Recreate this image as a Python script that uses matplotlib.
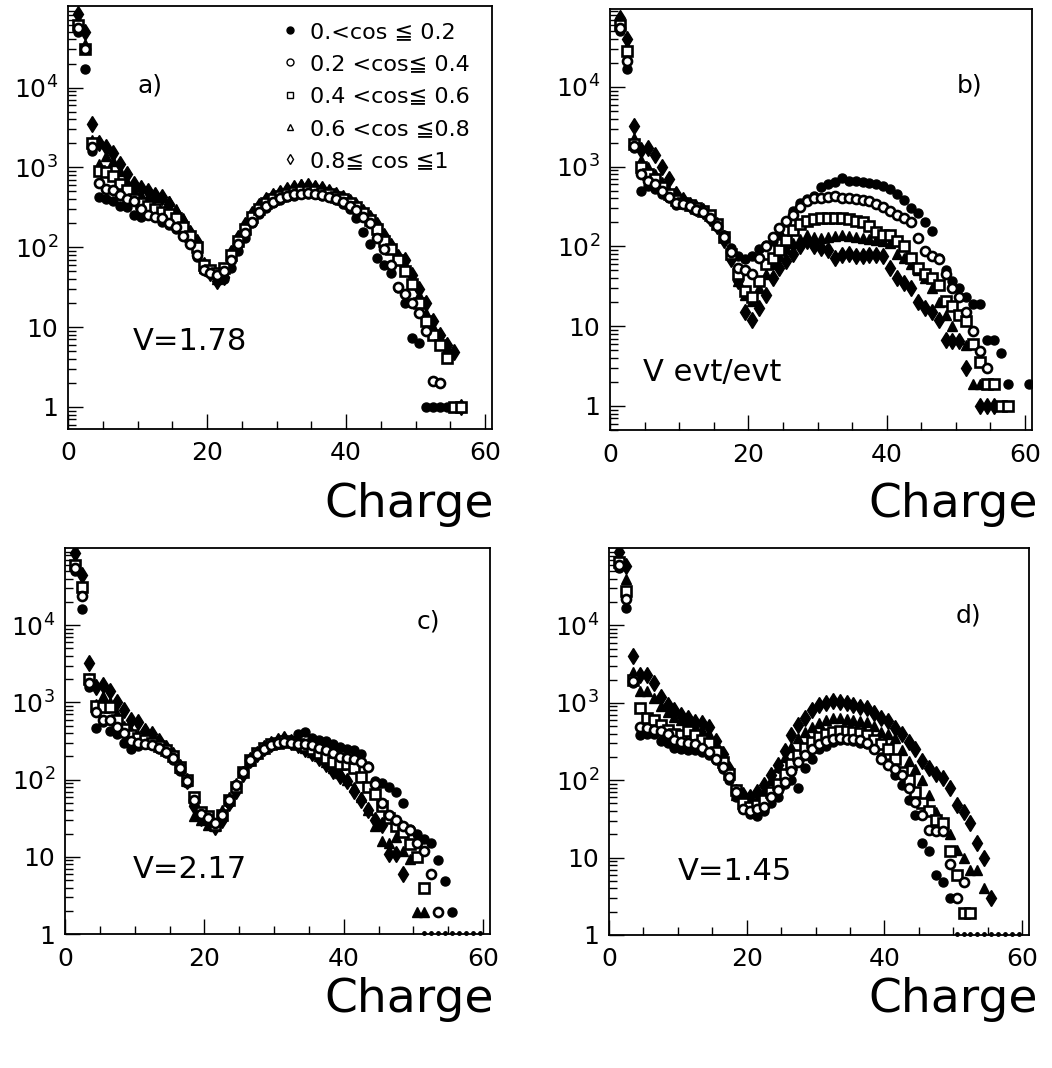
"""Charge distributions in four cos-theta bins, four panels a)-d)."""

import numpy as np
import matplotlib
matplotlib.use("Agg")
import matplotlib.pyplot as plt
from matplotlib.lines import Line2D
from matplotlib.ticker import (FixedLocator, FixedFormatter, MultipleLocator,
                               LogLocator, NullFormatter)

plt.rcParams["font.family"] = ["DejaVu Sans", "Noto Sans CJK SC"]
plt.rcParams["mathtext.fontset"] = "dejavusans"

nan = np.nan

# bin centres of the charge histogram
CHARGE = np.arange(1, 61) + 0.5

LEGEND_LABELS = ["0.<cos ≦ 0.2", "0.2 <cos≦ 0.4", "0.4 <cos≦ 0.6",
                 "0.6 <cos ≦0.8", "0.8≦ cos ≦1"]

# ─── panel a) V=1.78 ──────────────────────────────────────────────────────────
A_C1 = [5.0e4, 1.7e4, 1.6e3, 430, 400, 385, 330, 320, 250, 240, 270, 250, 210, 190,
        170, 140, 110, 75, 55, 50, 42, 40, 55, 90, 130, 200, 260, 310, 360, 390, 420,
        440, 460, 470, 460, 440, 420, 390, 350, 300, 230, 155, 110, 73, 60, 48, 31,
        20, 7.3, 6.3, 1, 1, 1, 1, 1, 1]
A_C2 = [5.5e4, 3.0e4, 1.8e3, 630, 540, 520, 450, 400, 380, 300, 250, 240, 230, 200,
        180, 140, 110, 80, 52, 48, 45, 50, 70, 110, 150, 210, 280, 330, 370, 410, 440,
        460, 470, 480, 470, 450, 430, 400, 370, 330, 290, 240, 200, 130, 95, 60, 32,
        26, 20, 15, 9, 2.1, 2.0]
A_C3 = [6.0e4, 3.0e4, 2.0e3, 900, 880, 770, 620, 520, 400, 360, 330, 300, 280, 260,
        230, 180, 140, 100, 60, 52, 48, 55, 80, 120, 170, 240, 300, 360, 400, 440, 470,
        490, 500, 510, 500, 480, 460, 430, 400, 360, 320, 270, 220, 170, 120, 95, 70,
        50, 35, 20, 12, 8, 6, 4.1, 1, 1]
A_C4 = [7.0e4, 3.5e4, 2.2e3, 1.1e3, 1.4e3, 1.2e3, 900, 650, 520, 450, 420, 420, 430,
        380, 300, 230, 160, 110, 55, 50, 40, 48, 90, 140, 200, 270, 340, 400, 450, 500,
        540, 570, 620, 600, 580, 550, 500, 460, 420, 380, 330, 280, 230, 180, 130, 100,
        80, 60, 42, 25, 15, 10, 7, 5.5, 1, 1]
A_C5 = [8.4e4, 4.9e4, 3.5e3, 2.0e3, 1.8e3, 1.5e3, 1.1e3, 830, 620, 560, 500, 450, 420,
        350, 270, 210, 150, 115, 60, 48, 38, 42, 85, 130, 190, 260, 330, 390, 440, 480,
        520, 550, 570, 580, 560, 530, 490, 450, 410, 370, 330, 280, 230, 190, 140, 105,
        75, 69, 45, 30, 20, 12, 8, 6, 4.9, 1]

# ─── panel b) V evt/evt ───────────────────────────────────────────────────────
B_C1 = [5.0e4, 1.7e4, 1.7e3, 500, 570, 520, 450, 400, 330, 350, 330, 300, 280, 240,
        190, 140, 95, 75, 70, 75, 92, 105, 118, 140, 200, 280, 350, 390, 430, 550, 600,
        640, 730, 660, 660, 650, 630, 600, 570, 520, 450, 380, 300, 260, 200, 155, 72,
        50, 37, 30, 23, 19, 19, 6.8, 6.8, 4.6, 1.9, nan, nan, 1.9]
B_C2 = [5.5e4, 2.1e4, 1.8e3, 800, 660, 600, 500, 420, 350, 340, 320, 290, 270, 230,
        180, 130, 85, 54, 50, 45, 72, 100, 130, 170, 210, 250, 310, 370, 400, 410, 420,
        430, 410, 400, 390, 380, 370, 340, 310, 280, 250, 230, 200, 127, 87, 75, 70,
        45, 30, 23, 15, 8.7, 4.9, 3]
B_C3 = [6.0e4, 2.8e4, 1.9e3, 980, 800, 700, 550, 450, 380, 350, 330, 300, 280, 250,
        190, 130, 80, 45, 28, 23, 37, 60, 72, 90, 122, 160, 190, 210, 220, 230, 230, 230,
        225, 220, 210, 200, 180, 150, 140, 140, 117, 100, 72, 54, 45, 40, 33, 21, 18, 14,
        11.6, 6, 3.6, 1.9, 1.9, 1, 1]
B_C4 = [6.5e4, 3.2e4, 2.3e3, 1.2e3, 1.0e3, 800, 650, 500, 400, 360, 330, 310, 290, 250,
        200, 140, 85, 37, 25, 21, 30, 45, 60, 75, 95, 110, 125, 140, 130, 127, 130, 135,
        140, 135, 130, 127, 125, 120, 117, 110, 80, 72, 60, 50, 40, 30, 20, 14, 10, 7,
        5.9, 1.9, 1.9, 1.9]
B_C5 = [7.4e4, 4.0e4, 3.2e3, 1.6e3, 1.7e3, 1.4e3, 1.0e3, 700, 450, 380, 330, 300, 280,
        230, 180, 120, 70, 37, 15, 12, 17, 25, 40, 54, 66, 80, 100, 117, 100, 95, 90, 72,
        78, 80, 75, 76, 78, 78, 75, 54, 40, 35, 30, 20, 17, 15, 12, 6.8, 6.6, 6.6, 3, nan,
        1, 1, 1]

# ─── panel c) V=2.17 ──────────────────────────────────────────────────────────
C_C1 = [5.0e4, 1.6e4, 1.6e3, 460, 550, 420, 390, 300, 250, 270, 300, 280, 250, 220,
        180, 130, 90, 48, 35, 30, 26, 32, 50, 75, 118, 170, 210, 240, 270, 290, 300, 330,
        390, 410, 350, 330, 320, 290, 263, 250, 240, 215, 150, 97, 90, 80, 70, 50, 23,
        20, 17, 15, 9, 4.9, 1.9]
C_C2 = [5.5e4, 2.4e4, 1.8e3, 750, 590, 590, 480, 400, 320, 300, 290, 280, 260, 230,
        190, 140, 95, 55, 36, 32, 27, 35, 55, 85, 125, 180, 215, 250, 280, 300, 310, 300,
        290, 290, 280, 260, 240, 220, 195, 190, 185, 170, 145, 87, 50, 35, 30, 25, 22,
        15, 12, 5.9, 1.9]
C_C3 = [6.0e4, 3.1e4, 2.0e3, 900, 870, 870, 600, 450, 380, 350, 330, 300, 270, 240,
        200, 145, 100, 60, 38, 34, 26, 35, 55, 80, 125, 180, 220, 255, 285, 300, 320, 310,
        290, 270, 250, 220, 190, 170, 160, 158, 140, 107, 80, 65, 45, 32, 25, 21, 14.6,
        9.8, 4]
C_C4 = [6.5e4, 3.3e4, 2.1e3, 960, 1.2e3, 1.0e3, 700, 500, 420, 380, 350, 320, 290, 250,
        200, 140, 95, 34, 30, 26, 25, 40, 60, 90, 130, 180, 220, 260, 290, 310, 330, 320,
        290, 260, 230, 200, 170, 140, 120, 100, 80, 60, 40, 25, 16, 15, 18, 12, 9.4, 1.9,
        1.9]
C_C5 = [8.5e4, 4.5e4, 3.2e3, 1.6e3, 1.7e3, 1.4e3, 1.0e3, 790, 600, 550, 420, 390, 320,
        260, 210, 145, 97, 45, 32, 28, 24, 30, 50, 72, 118, 178, 215, 260, 290, 320, 340,
        310, 280, 250, 220, 190, 160, 130, 110, 97, 72, 54, 40, 30, 26, 11, 11, 5.9]

# ─── panel d) V=1.45 ──────────────────────────────────────────────────────────
D_C1 = [5.5e4, 1.7e4, 1.8e3, 385, 390, 390, 320, 300, 260, 250, 245, 245, 230, 210,
        180, 140, 100, 60, 42, 37, 34, 40, 50, 60, 90, 100, 80, 145, 190, 250, 280, 315,
        330, 330, 320, 300, 290, 250, 200, 165, 117, 87, 56, 35, 15.5, 12, 6, 4.9, 3]
D_C2 = [6.0e4, 2.2e4, 1.9e3, 490, 470, 450, 430, 390, 330, 310, 300, 290, 260, 230,
        190, 150, 110, 70, 42, 40, 42, 45, 60, 75, 95, 130, 170, 210, 250, 290, 320, 345,
        350, 345, 340, 330, 300, 250, 190, 158, 140, 117, 80, 53, 35, 23, 22, 22, 8.2, 3,
        4.9]
D_C3 = [6.5e4, 2.8e4, 2.0e3, 850, 630, 600, 520, 450, 400, 380, 430, 380, 330, 300,
        230, 170, 120, 75, 50, 45, 48, 55, 70, 90, 120, 160, 210, 260, 310, 360, 400, 420,
        430, 430, 425, 410, 380, 330, 290, 255, 190, 128, 100, 71, 50, 40, 31, 28, 12, 6,
        1.9, 1.9]
D_C4 = [7.0e4, 4.0e4, 2.5e3, 1.4e3, 1.4e3, 1.15e3, 900, 750, 650, 600, 570, 500, 450,
        400, 300, 200, 130, 65, 55, 50, 55, 70, 100, 150, 200, 270, 350, 420, 480, 550,
        600, 630, 630, 620, 600, 590, 570, 500, 425, 390, 350, 245, 175, 140, 100, 65, 39,
        24, 20, 12.6, 10, 7, 7, 4]
D_C5 = [9.0e4, 5.8e4, 4.0e3, 2.3e3, 2.3e3, 1.8e3, 1.2e3, 930, 800, 700, 640, 570, 550,
        480, 320, 220, 140, 71, 65, 60, 71, 87, 117, 158, 235, 385, 520, 630, 810, 940,
        1000, 1050, 1020, 1000, 940, 880, 850, 740, 630, 575, 470, 390, 315, 255, 175,
        145, 120, 107, 79, 48, 39, 28, 15.5, 9.8, 3]

# empty bins drawn on the lower frame edge (panels c and d)
ZERO_BINS_C = [51.5, 52.5, 53.5, 54.5, 55.5, 56.5, 57.5, 58.5, 59.5]
ZERO_BINS_D = [50.5, 51.5, 52.5, 53.5, 54.5, 55.5, 56.5, 57.5, 58.5, 59.5]

# marker style per cos bin (filled dot, open dot, open square, triangle, diamond)
STYLES = [
    dict(marker="o", mfc="black", mec="black", ms=6.5, mew=1.0),
    dict(marker="o", mfc="white", mec="black", ms=6.5, mew=1.9),
    dict(marker="s", mfc="white", mec="black", ms=6.5, mew=1.9),
    dict(marker="^", mfc="black", mec="black", ms=7.5, mew=1.0),
    dict(marker="d", mfc="black", mec="black", ms=8.5, mew=1.0),
]
DRAW_ORDER = [4, 3, 0, 2, 1]

W, H = 1052, 1068


def px_rect(left, top, right, bottom):
    return [left / W, 1 - bottom / H, (right - left) / W, (bottom - top) / H]


def draw_panel(ax, series, ylim, zero_bins=None):
    for i in DRAW_ORDER:
        vals = series[i]
        ax.plot(CHARGE[:len(vals)], vals, ls="none", color="black", **STYLES[i])
    if zero_bins is not None:
        ax.plot(zero_bins, [ylim[0] * 1.03] * len(zero_bins), ls="none", marker="o",
                ms=2.5, color="black", clip_on=False)
    ax.set_yscale("log")
    ax.set_xlim(0, 61)
    ax.set_ylim(*ylim)
    ax.yaxis.set_major_locator(FixedLocator([1, 10, 100, 1000, 10000]))
    ax.yaxis.set_major_formatter(FixedFormatter(
        ["1", "10", "$10^{2}$", "$10^{3}$", "$10^{4}$"]))
    ax.yaxis.set_minor_locator(LogLocator(base=10, subs=np.arange(2, 10), numticks=20))
    ax.yaxis.set_minor_formatter(NullFormatter())
    ax.xaxis.set_major_locator(FixedLocator([0, 20, 40, 60]))
    ax.xaxis.set_minor_locator(MultipleLocator(5))
    ax.tick_params(which="both", direction="in", top=False, right=False, width=1.0)
    ax.tick_params(which="major", length=11, labelsize=18)
    ax.tick_params(which="minor", length=6)
    ax.tick_params(axis="y", which="major", pad=7)
    ax.tick_params(axis="x", which="major", pad=9)
    for sp in ax.spines.values():
        sp.set_linewidth(1.3)


fig = plt.figure(figsize=(W / 100, H / 100), dpi=100)

ax_a = fig.add_axes(px_rect(68, 6, 492, 429))
ax_b = fig.add_axes(px_rect(610, 9, 1032, 430))
ax_c = fig.add_axes(px_rect(65, 548, 490, 934))
ax_d = fig.add_axes(px_rect(609, 548, 1029, 935))

draw_panel(ax_a, [A_C1, A_C2, A_C3, A_C4, A_C5], (0.53, 1.05e5))
draw_panel(ax_b, [B_C1, B_C2, B_C3, B_C4, B_C5], (0.5, 9.5e4))
draw_panel(ax_c, [C_C1, C_C2, C_C3, C_C4, C_C5], (1, 1e5), ZERO_BINS_C)
draw_panel(ax_d, [D_C1, D_C2, D_C3, D_C4, D_C5], (1, 1e5), ZERO_BINS_D)

# legend in panel a (small open symbols)
handles = [
    Line2D([], [], ls="none", marker="o", mfc="black", mec="black", ms=5),
    Line2D([], [], ls="none", marker="o", mfc="white", mec="black", ms=5, mew=1),
    Line2D([], [], ls="none", marker="s", mfc="white", mec="black", ms=5, mew=1),
    Line2D([], [], ls="none", marker="^", mfc="white", mec="black", ms=5, mew=1),
    Line2D([], [], ls="none", marker="d", mfc="white", mec="black", ms=5, mew=1),
]
ax_a.legend(handles, LEGEND_LABELS, loc="upper left",
            bbox_to_anchor=(281 / W, 1 - 22 / H), bbox_transform=fig.transFigure,
            frameon=False, fontsize=16, handlelength=0.8, handletextpad=0.5,
            labelspacing=0.55, borderpad=0, borderaxespad=0)

# panel tags and annotations
def ftext(x, y, s, size, **kw):
    fig.text(x / W, 1 - y / H, s, fontsize=size, **kw)

ftext(150, 86, "a)", 18, ha="center", va="center")
ftext(970, 86, "b)", 18, ha="center", va="center")
ftext(428, 622, "c)", 18, ha="center", va="center")
ftext(968, 616, "d)", 18, ha="center", va="center")

ftext(133, 341, "V=1.78", 22, ha="left", va="center")
ftext(643, 372, "V evt/evt", 22, ha="left", va="center")
ftext(133, 870, "V=2.17", 22, ha="left", va="center")
ftext(678, 872, "V=1.45", 22, ha="left", va="center")

# big axis titles
ftext(494, 517, "Charge", 34, ha="right", va="baseline")
ftext(1038, 517, "Charge", 34, ha="right", va="baseline")
ftext(494, 1012, "Charge", 34, ha="right", va="baseline")
ftext(1038, 1012, "Charge", 34, ha="right", va="baseline")

fig.savefig("out.png", dpi=100, facecolor="white")
